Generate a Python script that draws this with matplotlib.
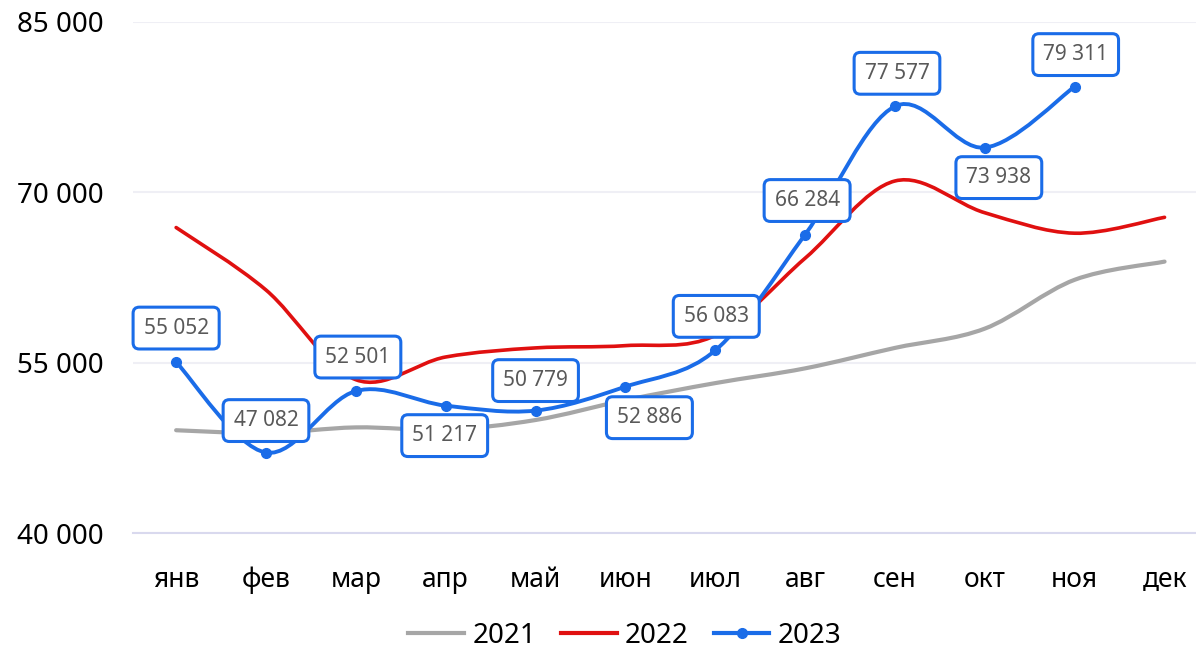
import numpy as np
import matplotlib.pyplot as plt
from matplotlib.path import Path
from matplotlib.patches import PathPatch
from matplotlib.lines import Line2D

plt.rcParams['font.family'] = ['Noto Sans', 'DejaVu Sans']

months = ["янв", "фев", "мар", "апр", "май", "июн", "июл", "авг", "сен", "окт", "ноя", "дек"]
y2021 = [49050, 48800, 49300, 49100, 49950, 51700, 53200, 54500, 56300, 58000, 62300, 63900]
y2022 = [66900, 61400, 53500, 55500, 56300, 56500, 57400, 64200, 71000, 68200, 66400, 67800]
y2023 = [55052, 47082, 52501, 51217, 50779, 52886, 56083, 66284, 77577, 73938, 79311]
# label offsets in pixels (dx, dy) for the 2023 boxes
lbl_off = [(0, 34), (0, 32), (2, 34), (-1, -30), (0, 30), (24, -31), (1, 34), (2, 34), (2, 33), (14, -30), (1, 32)]

C21, C22, C23 = "#a6a6a6", "#e01010", "#1a6ce8"


def smooth_path(xs, ys):
    # excel style smoothing: bezier through points, control pts from neighbours
    p = np.column_stack([xs, ys]).astype(float)
    n = len(p)
    verts = [p[0]]
    codes = [Path.MOVETO]
    for i in range(n - 1):
        p0 = p[i - 1] if i > 0 else p[i]
        p1, p2 = p[i], p[i + 1]
        p3 = p[i + 2] if i + 2 < n else p[i + 1]
        c1 = p1 + (p2 - p0) / 6
        c2 = p2 - (p3 - p1) / 6
        verts += [c1, c2, p2]
        codes += [Path.CURVE4] * 3
    return Path(verts, codes)


fig = plt.figure(figsize=(11.96, 6.49), dpi=100)
ax = fig.add_axes([133 / 1196, 1 - 533 / 649, 1 - 133 / 1196, (533 - 22) / 649])

x = np.arange(len(months))
for ys, col, lw in [(y2021, C21, 3.0), (y2022, C22, 2.6), (y2023, C23, 2.8)]:
    xs = x[:len(ys)]
    ax.add_patch(PathPatch(smooth_path(xs, ys), fill=False, edgecolor=col, lw=lw,
                           capstyle='round', zorder=3))

ax.plot(x[:len(y2023)], y2023, 'o', color=C23, ms=7, zorder=4)

for i, v in enumerate(y2023):
    dx, dy = lbl_off[i]
    ax.annotate(f"{v:,}".replace(",", " "), (i, v), xytext=(dx, dy), textcoords='offset pixels',
                ha='center', va='center', fontsize=15, color="#595959", zorder=5,
                bbox=dict(boxstyle='round,pad=0.5,rounding_size=0.3', fc='white', ec=C23, lw=2.2))

ax.set_xlim(-0.48, 11.35)
ax.set_ylim(40000, 85000)
ax.set_yticks([40000, 55000, 70000, 85000])
ax.set_yticklabels(["40 000", "55 000", "70 000", "85 000"])
ax.set_xticks(x)
ax.set_xticklabels(months)
ax.tick_params(axis='y', length=0, pad=21, labelsize=20)
ax.tick_params(axis='x', length=0, pad=24, labelsize=19)
ax.grid(axis='y', color="#efeff5", lw=1.5, zorder=0)
for s in ['top', 'right', 'left']:
    ax.spines[s].set_visible(False)
ax.spines['bottom'].set_color("#d9d9ee")
ax.spines['bottom'].set_linewidth(1.5)

handles = [Line2D([], [], color=C21, lw=3),
           Line2D([], [], color=C22, lw=3),
           Line2D([], [], color=C23, lw=3, marker='o', ms=7)]
fig.legend(handles, ["2021", "2022", "2023"], loc='center', bbox_to_anchor=(625 / 1196, 1 - 636 / 649),
           ncol=3, frameon=False, fontsize=20, handlelength=2.0, handletextpad=0.3, columnspacing=0.9)

fig.savefig("out.png", dpi=100)
